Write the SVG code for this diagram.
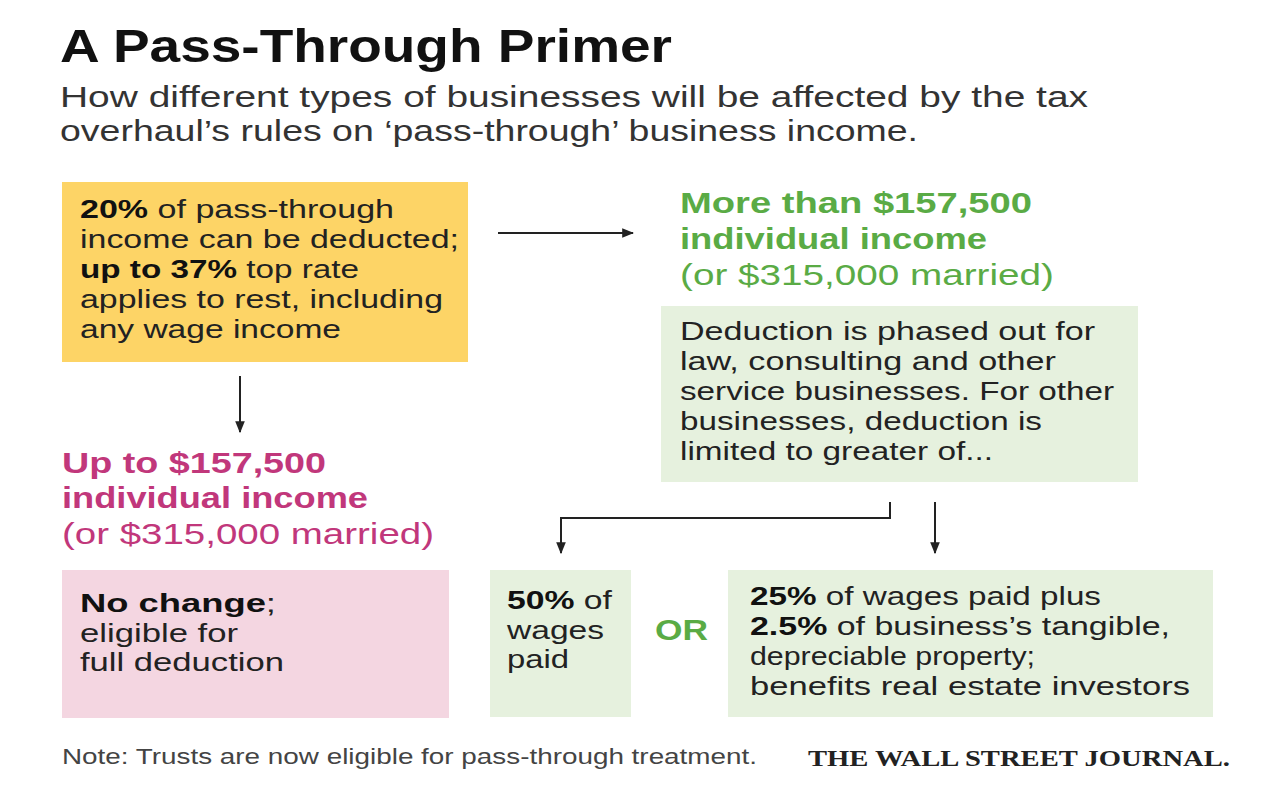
<svg xmlns="http://www.w3.org/2000/svg" width="1280" height="800" viewBox="0 0 1280 800">
<defs>
<style>
text{font-family:"Liberation Sans","Open Sans",sans-serif;}
.t{font-size:26px;fill:#222;}
.b{font-weight:bold;fill:#111;}
.h{font-size:30px;font-weight:bold;}
.s{font-size:30px;font-weight:normal;}
.g{fill:#5aab45;}
.m{fill:#c1377b;}
.ln{stroke:#222;stroke-width:2;fill:none;}
</style>
<marker id="ah" viewBox="0 0 10 10" refX="9" refY="5" markerWidth="6" markerHeight="6" orient="auto" markerUnits="strokeWidth"><path d="M0,1 L10,5 L0,9 z" fill="#222"/></marker>
</defs>
<rect width="1280" height="800" fill="#fff"/>
<g id="title">
<text x="60" y="62" font-size="46" font-weight="bold" fill="#111" textLength="612" lengthAdjust="spacingAndGlyphs">A Pass-Through Primer</text>
<text x="60" y="107" font-size="29" fill="#333" textLength="1028" lengthAdjust="spacingAndGlyphs">How different types of businesses will be affected by the tax</text>
<text x="60" y="141" font-size="29" fill="#333" textLength="858" lengthAdjust="spacingAndGlyphs">overhaul’s rules on ‘pass-through’ business income.</text>
</g>
<g id="connectors">
<line class="ln" x1="498" y1="233" x2="633" y2="233" marker-end="url(#ah)"/>
<line class="ln" x1="240" y1="376" x2="240" y2="432" marker-end="url(#ah)"/>
<polyline class="ln" points="890,502 890,518 561,518 561,553" marker-end="url(#ah)"/>
<line class="ln" x1="935" y1="502" x2="935" y2="553" marker-end="url(#ah)"/>
</g>
<g id="yellow">
<rect x="62" y="182" width="406" height="180" fill="#fdd466"/>
<text class="t" x="80" y="218" textLength="314" lengthAdjust="spacingAndGlyphs"><tspan class="b">20%</tspan> of pass-through</text>
<text class="t" x="80" y="248" textLength="379" lengthAdjust="spacingAndGlyphs">income can be deducted;</text>
<text class="t" x="80" y="278" textLength="279" lengthAdjust="spacingAndGlyphs"><tspan class="b">up to 37%</tspan> top rate</text>
<text class="t" x="80" y="308" textLength="363" lengthAdjust="spacingAndGlyphs">applies to rest, including</text>
<text class="t" x="80" y="338" textLength="261" lengthAdjust="spacingAndGlyphs">any wage income</text>
</g>
<g id="more-header">
<text class="h g" x="680" y="213" textLength="352" lengthAdjust="spacingAndGlyphs">More than $157,500</text>
<text class="h g" x="680" y="249" textLength="307" lengthAdjust="spacingAndGlyphs">individual income</text>
<text class="s g" x="680" y="285" textLength="374" lengthAdjust="spacingAndGlyphs">(or $315,000 married)</text>
</g>
<g id="phase-out">
<rect x="661" y="306" width="477" height="176" fill="#e6f1de"/>
<text class="t" x="680" y="340" textLength="415" lengthAdjust="spacingAndGlyphs">Deduction is phased out for</text>
<text class="t" x="680" y="370" textLength="376" lengthAdjust="spacingAndGlyphs">law, consulting and other</text>
<text class="t" x="680" y="400" textLength="434" lengthAdjust="spacingAndGlyphs">service businesses. For other</text>
<text class="t" x="680" y="430" textLength="362" lengthAdjust="spacingAndGlyphs">businesses, deduction is</text>
<text class="t" x="680" y="460" textLength="313" lengthAdjust="spacingAndGlyphs">limited to greater of...</text>
</g>
<g id="upto-header">
<text class="h m" x="62" y="473" textLength="264" lengthAdjust="spacingAndGlyphs">Up to $157,500</text>
<text class="h m" x="62" y="508" textLength="306" lengthAdjust="spacingAndGlyphs">individual income</text>
<text class="s m" x="62" y="544" textLength="372" lengthAdjust="spacingAndGlyphs">(or $315,000 married)</text>
</g>
<g id="no-change">
<rect x="62" y="570" width="387" height="148" fill="#f4d6e1"/>
<text class="t" x="80" y="612" textLength="196" lengthAdjust="spacingAndGlyphs"><tspan class="b">No change</tspan>;</text>
<text class="t" x="80" y="642" textLength="158" lengthAdjust="spacingAndGlyphs">eligible for</text>
<text class="t" x="80" y="671" textLength="204" lengthAdjust="spacingAndGlyphs">full deduction</text>
</g>
<g id="fifty">
<rect x="490" y="570" width="141" height="147" fill="#e6f1de"/>
<text class="t" x="507" y="609" textLength="105" lengthAdjust="spacingAndGlyphs"><tspan class="b">50%</tspan> of</text>
<text class="t" x="507" y="639" textLength="97" lengthAdjust="spacingAndGlyphs">wages</text>
<text class="t" x="507" y="668" textLength="62" lengthAdjust="spacingAndGlyphs">paid</text>
</g>
<g id="or">
<text x="655" y="640" font-size="29" font-weight="bold" fill="#5aab45" textLength="53" lengthAdjust="spacingAndGlyphs">OR</text>
</g>
<g id="twentyfive">
<rect x="728" y="570" width="485" height="147" fill="#e6f1de"/>
<text class="t" x="750" y="605" textLength="351" lengthAdjust="spacingAndGlyphs"><tspan class="b">25%</tspan> of wages paid plus</text>
<text class="t" x="750" y="635" textLength="420" lengthAdjust="spacingAndGlyphs"><tspan class="b">2.5%</tspan> of business’s tangible,</text>
<text class="t" x="750" y="665" textLength="285" lengthAdjust="spacingAndGlyphs">depreciable property;</text>
<text class="t" x="750" y="695" textLength="440" lengthAdjust="spacingAndGlyphs">benefits real estate investors</text>
</g>
<g id="footer">
<text x="62" y="764" font-size="22" fill="#444" textLength="695" lengthAdjust="spacingAndGlyphs">Note: Trusts are now eligible for pass-through treatment.</text>
<text x="808" y="766" font-size="24" font-weight="bold" fill="#222" style="font-family:'Liberation Serif',serif" textLength="422" lengthAdjust="spacingAndGlyphs">THE WALL STREET JOURNAL.</text>
</g>
</svg>
